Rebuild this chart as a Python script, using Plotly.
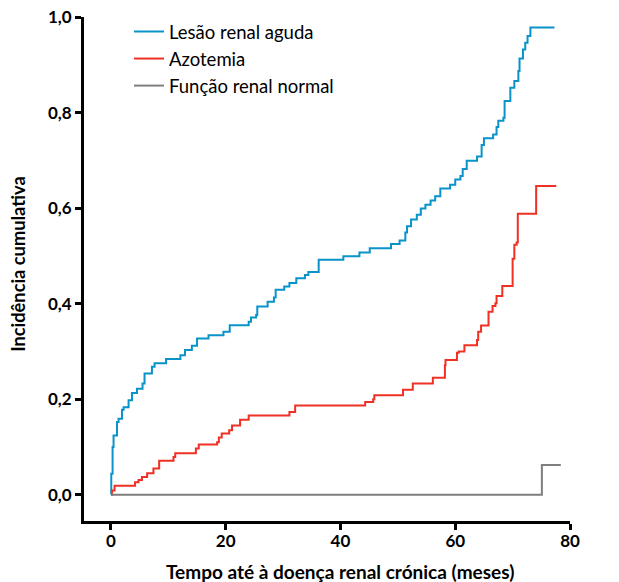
import plotly.graph_objects as go

# Lesão renal aguda (step times in months, cumulative incidence)
aki_x = [0, 0.05, 0.28, 0.45, 1.05, 1.32, 1.92, 2.2, 3.07, 3.66, 4.53, 5.5, 5.85, 7.14, 7.6,
         9.6, 12.1, 12.9, 14.1, 15.0, 17.0, 19.6, 20.7, 24.0, 24.4, 25.3, 25.5, 27.3, 28.4,
         28.7, 30.2, 31.1, 32.3, 33.8, 34.4, 36.2, 40.5, 43.3, 45.1, 48.8, 50.3, 51.3, 51.6,
         52.3, 53.3, 54.0, 54.8, 55.7, 56.5, 57.4, 59.1, 60.0, 60.9, 61.3, 62.0, 63.8, 64.6,
         65.0, 66.6, 67.2, 67.5, 68.4, 68.6, 69.6, 70.3, 71.0, 71.2, 71.8, 72.2, 72.6, 73.1, 77.3]
aki_y = [0, 0.044, 0.10, 0.124, 0.152, 0.159, 0.178, 0.183, 0.198, 0.213, 0.222, 0.233, 0.254,
         0.268, 0.275, 0.284, 0.292, 0.303, 0.312, 0.327, 0.334, 0.341, 0.355, 0.362, 0.371,
         0.376, 0.394, 0.404, 0.413, 0.429, 0.436, 0.443, 0.453, 0.460, 0.466, 0.492, 0.499,
         0.507, 0.516, 0.525, 0.532, 0.549, 0.562, 0.576, 0.586, 0.599, 0.607, 0.616, 0.625,
         0.641, 0.649, 0.660, 0.667, 0.682, 0.699, 0.708, 0.732, 0.746, 0.754, 0.770, 0.783,
         0.789, 0.824, 0.852, 0.866, 0.887, 0.913, 0.932, 0.946, 0.960, 0.978, 0.978]

# Azotemia
azo_x = [0, 0.17, 0.63, 4.2, 4.8, 5.4, 6.3, 7.4, 8.4, 10.9, 11.2, 14.8, 15.3, 18.5, 18.8, 19.3,
         20.6, 21.1, 22.5, 24.0, 31.1, 32.1, 44.3, 45.7, 45.9, 50.9, 52.6, 56.1, 58.2, 58.3,
         60.3, 60.6, 61.6, 63.8, 64.0, 64.5, 65.8, 66.5, 67.0, 67.2, 68.2, 70.0, 70.3, 70.7,
         70.9, 74.1, 77.6]
azo_y = [0, 0.009, 0.019, 0.026, 0.031, 0.037, 0.045, 0.055, 0.071, 0.079, 0.087, 0.097, 0.105,
         0.110, 0.120, 0.128, 0.135, 0.145, 0.157, 0.166, 0.173, 0.187, 0.194, 0.200, 0.208,
         0.220, 0.233, 0.245, 0.271, 0.282, 0.297, 0.300, 0.313, 0.324, 0.341, 0.354, 0.383,
         0.395, 0.401, 0.416, 0.437, 0.494, 0.523, 0.528, 0.588, 0.646, 0.646]

# Função renal normal
nrm_x = [0, 75.1, 78.4]
nrm_y = [0, 0.062, 0.062]

x_ticks = [0, 20, 40, 60, 80]
y_ticks = [0.0, 0.2, 0.4, 0.6, 0.8, 1.0]

FONT = "Lato"

fig = go.Figure()
for name, xs, ys, col in [
    ("Lesão renal aguda", aki_x, aki_y, "#0a93c9"),
    ("Azotemia", azo_x, azo_y, "#ee3124"),
    ("Função renal normal", nrm_x, nrm_y, "#7f7f7f"),
]:
    fig.add_trace(go.Scatter(x=xs, y=ys, mode="lines", name=name,
                             line=dict(shape="hv", color=col, width=2)))

axis_common = dict(showline=True, linecolor="black", linewidth=3, ticks="outside",
                   ticklen=6, tickwidth=3, tickcolor="black", showgrid=False, zeroline=False,
                   automargin=False, ticklabeloverflow="allow",
                   tickfont=dict(family=FONT, size=17, color="black", weight="bold"))

fig.update_layout(
    width=619, height=582,
    margin=dict(l=84, r=49, t=17, b=61, autoexpand=False),
    plot_bgcolor="white", paper_bgcolor="white",
    separators=",.",
    font=dict(family=FONT, color="black"),
    xaxis=dict(range=[-4.7, 80], tickvals=x_ticks, ticklabelstandoff=-3, **axis_common),
    yaxis=dict(range=[-0.055, 1.0], tickvals=y_ticks, tickformat=".1f", **axis_common),
    legend=dict(x=0.0926, y=1.008, xanchor="left", yanchor="top", bgcolor="rgba(0,0,0,0)",
                font=dict(family=FONT, size=18.5, color="black"), tracegroupgap=0,
                itemwidth=30),
    showlegend=True,
    annotations=[
        dict(text="<b>Tempo até à doença renal crónica (meses)</b>", xref="paper", yref="paper",
             x=0.527, y=-0.101, xanchor="center", yanchor="middle", showarrow=False,
             font=dict(family=FONT, size=19, color="black")),
        dict(text="<b>Incidência cumulativa</b>", xref="paper", yref="paper",
             x=-0.136, y=0.51, xanchor="center", yanchor="middle", showarrow=False,
             textangle=-90, font=dict(family=FONT, size=18.3, color="black")),
    ],
)

# remove the default 8px page margin so the figure fills the window exactly
fig.write_html("out.html", config={"displayModeBar": False},
               post_script="document.body.style.margin='0';")
